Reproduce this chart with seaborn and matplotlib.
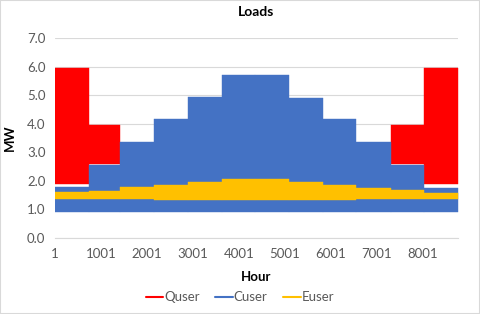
import numpy as np
import pandas as pd
import seaborn as sns
import matplotlib.pyplot as plt
from matplotlib.lines import Line2D
from matplotlib.patches import Rectangle

# hourly loads summarised per month (band between daily low and high)
months = ["Jan", "Feb", "Mar", "Apr", "May", "Jun",
          "Jul", "Aug", "Sep", "Oct", "Nov", "Dec"]
hours_per_month = [744, 672, 744, 720, 744, 720, 744, 744, 720, 744, 720, 744]

# Quser only visible in winter months (hidden behind Cuser otherwise)
quser_low = [1.90, 2.60, np.nan, np.nan, np.nan, np.nan,
             np.nan, np.nan, np.nan, np.nan, 2.60, 1.88]
quser_high = [5.95, 3.95, np.nan, np.nan, np.nan, np.nan,
              np.nan, np.nan, np.nan, np.nan, 3.95, 5.95]

cuser_low = [0.92, 0.92, 0.92, 0.92, 0.92, 0.92,
             0.92, 0.92, 0.92, 0.92, 0.92, 0.92]
cuser_high = [1.78, 2.55, 3.35, 4.15, 4.95, 5.70,
              5.70, 4.90, 4.15, 3.35, 2.55, 1.76]

euser_low = [1.36, 1.36, 1.35, 1.34, 1.33, 1.32,
             1.32, 1.33, 1.34, 1.35, 1.36, 1.36]
euser_high = [1.60, 1.65, 1.78, 1.87, 1.97, 2.05,
              2.07, 1.97, 1.87, 1.76, 1.67, 1.59]

xtick_labels = [1, 1001, 2001, 3001, 4001, 5001, 6001, 7001, 8001]

df = pd.DataFrame({
    "month": months,
    "hours": hours_per_month,
    "Quser_lo": quser_low, "Quser_hi": quser_high,
    "Cuser_lo": cuser_low, "Cuser_hi": cuser_high,
    "Euser_lo": euser_low, "Euser_hi": euser_high,
})
df["end"] = df["hours"].cumsum()
df["start"] = df["end"] - df["hours"] + 1

sns.set_style("white")
plt.rcParams["font.family"] = ["Lato", "DejaVu Sans"]

colors = {"Quser": "#FF0000", "Cuser": "#4472C4", "Euser": "#FFC000"}
txt = "#595959"

fig = plt.figure(figsize=(4.8, 3.14), dpi=100)
ax = fig.add_axes([0.115, 0.242, 0.839, 0.637])

for name in ["Quser", "Cuser", "Euser"]:
    for _, r in df.iterrows():
        if np.isnan(r[name + "_lo"]):
            continue
        # overlap neighbouring months a bit so no seams show
        x0 = r["start"] - 1 if r["start"] > 1 else 1
        ax.fill_between([x0, r["end"]], r[name + "_lo"], r[name + "_hi"],
                        color=colors[name], edgecolor=colors[name], linewidth=0.3)

ax.set_xlim(1, 8760)
ax.set_ylim(0, 7)
ax.set_yticks(np.arange(0, 7.5, 1.0))
ax.set_yticklabels([f"{v:.1f}" for v in np.arange(0, 7.5, 1.0)])
ax.set_xticks(xtick_labels)
ax.set_xticklabels([str(v) for v in xtick_labels])
ax.tick_params(colors=txt, labelsize=9.5, length=0, pad=7)
ax.yaxis.grid(True, color="#d9d9d9", linewidth=0.8)
ax.set_axisbelow(True)
for s in ["top", "right", "left"]:
    ax.spines[s].set_visible(False)
ax.spines["bottom"].set_color("#d9d9d9")

ax.set_title("Loads", fontsize=10, fontweight="bold", color="#000000", pad=16)
ax.set_xlabel("Hour", fontsize=9.5, fontweight="bold", color="#000000", labelpad=8)
ax.set_ylabel("MW", fontsize=9.5, fontweight="bold", color="#000000", labelpad=8)

handles = [Line2D([0], [0], color=colors[n], lw=1.5) for n in ["Quser", "Cuser", "Euser"]]
leg = fig.legend(handles, ["Quser", "Cuser", "Euser"], loc="center",
                 bbox_to_anchor=(0.5, 0.053), ncol=3, frameon=False,
                 fontsize=9.5, handlelength=1.3, handletextpad=0.1, columnspacing=1.2)
for t in leg.get_texts():
    t.set_color(txt)

fig.patches.append(Rectangle((0, 0), 1, 1, transform=fig.transFigure,
                             fill=False, edgecolor="#d9d9d9", linewidth=1.5))

fig.savefig("out.png", dpi=100)
